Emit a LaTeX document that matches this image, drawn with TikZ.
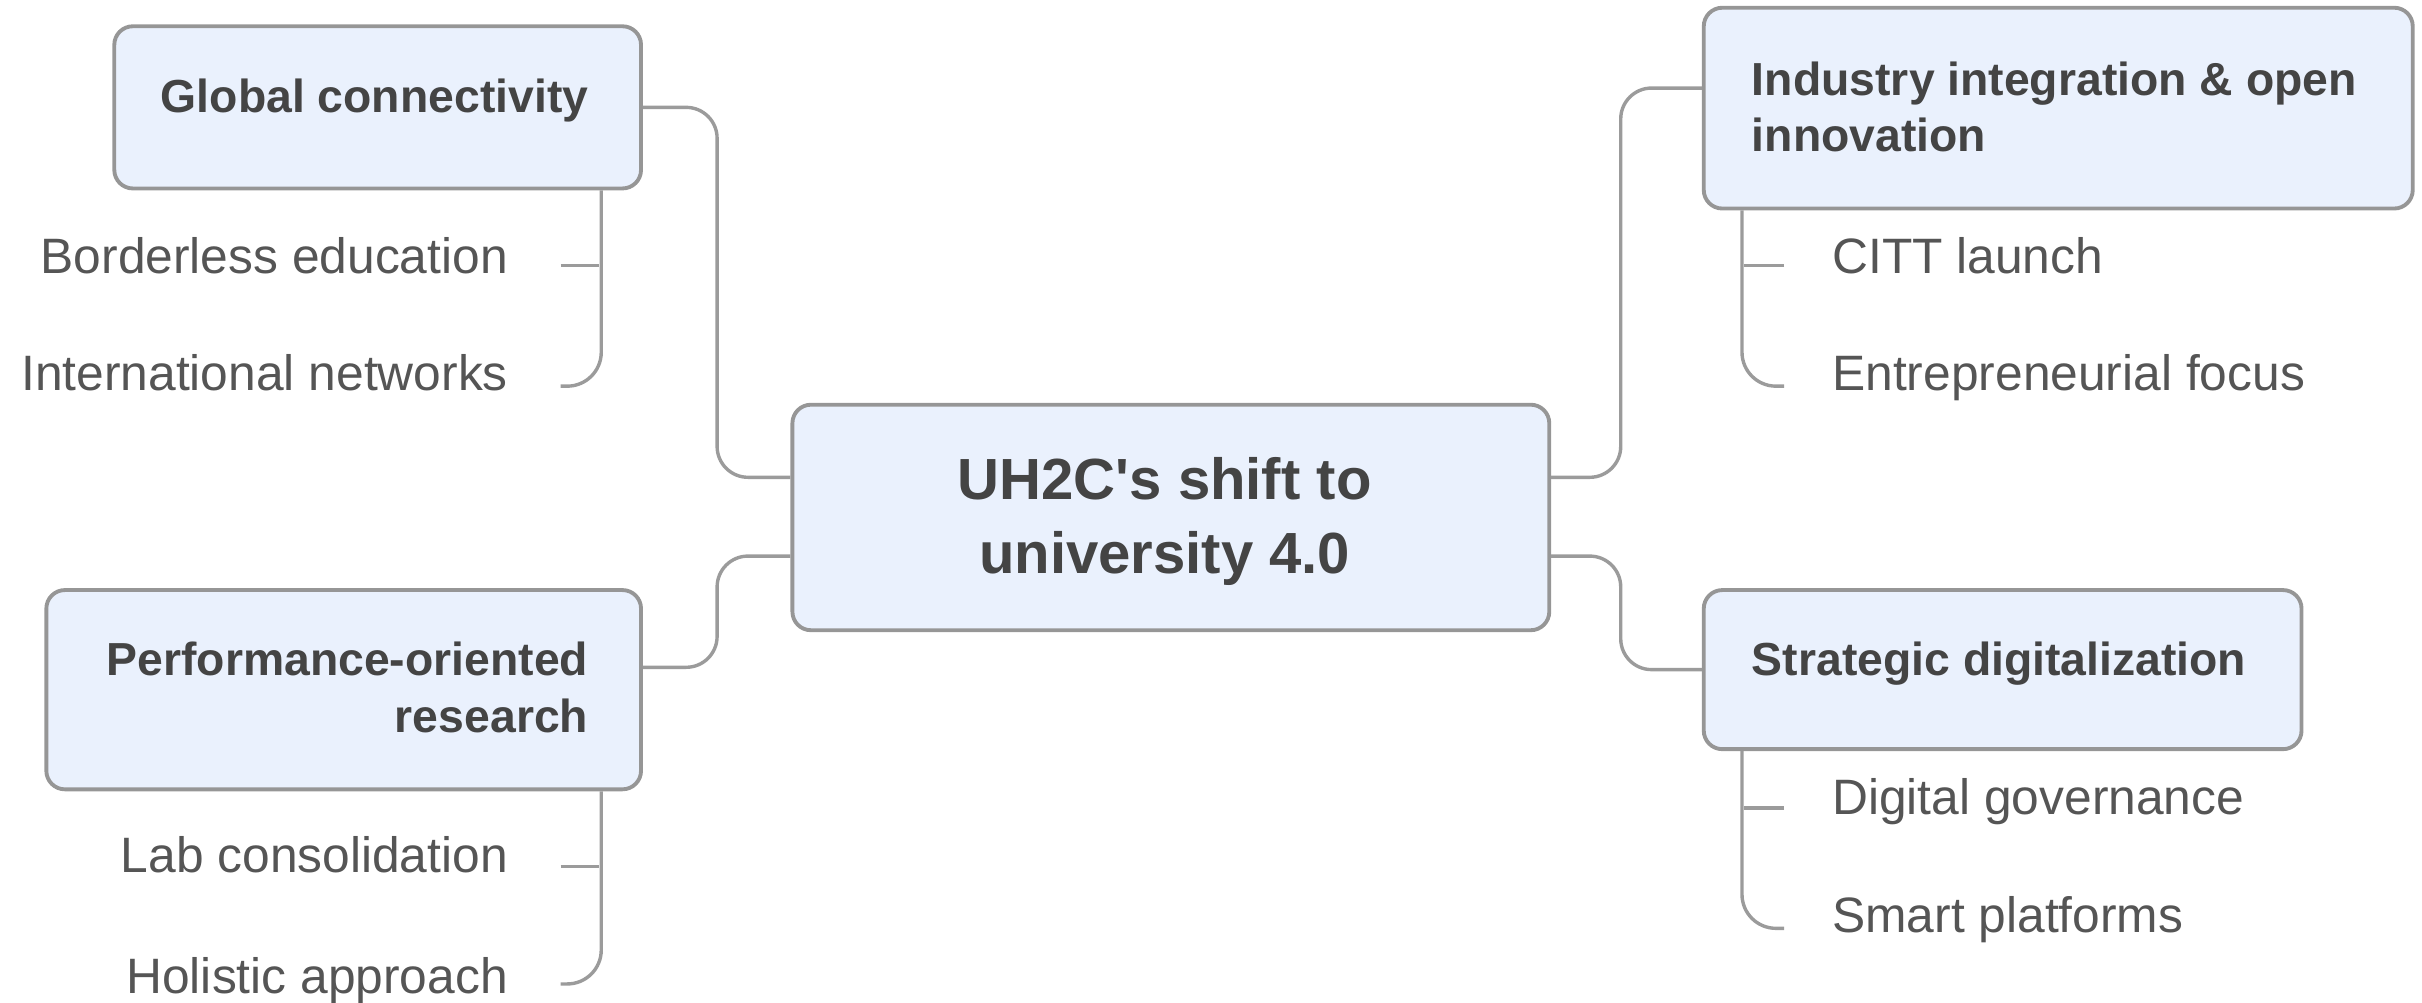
\documentclass[tikz,border=0pt]{standalone}
\usepackage{fontspec}
\setmainfont{Liberation Sans}
\definecolor{boxfill}{HTML}{EAF1FD}
\definecolor{boxline}{HTML}{969696}
\definecolor{linegray}{HTML}{9B9B9B}
\definecolor{boldtxt}{HTML}{444444}
\definecolor{regtxt}{HTML}{555555}
\begin{document}
\begin{tikzpicture}[x=1pt,y={(0pt,-1pt)},
  box/.style={draw=boxline, line width=2.5pt, fill=boxfill, rounded corners=12pt, inner sep=0pt},
  conn/.style={draw=linegray, line width=2.2pt, rounded corners=20pt},
  sub/.style={draw=linegray, line width=2.2pt, rounded corners=22pt},
  btxt/.style={font=\fontsize{30}{36}\selectfont\bfseries, text=boldtxt, inner sep=0pt},
  rtxt/.style={font=\fontsize{32.2}{38}\selectfont, text=regtxt, inner sep=0pt},
  ctxt/.style={font=\fontsize{37.6}{46}\selectfont\bfseries, text=boldtxt, inner sep=0pt}]
\useasboundingbox (0,0) rectangle (1568,648.7);

% boxes
\node[box, minimum width=490pt, minimum height=146pt] (hub) at (758,335) {};
\node[box, minimum width=341pt, minimum height=105pt] (glob) at (244.5,69.5) {};
\node[box, minimum width=385pt, minimum height=129pt] (perf) at (222.5,446.5) {};
\node[box, minimum width=459pt, minimum height=130pt] (indus) at (1332.5,70) {};
\node[box, minimum width=387pt, minimum height=103pt] (strat) at (1296.5,433.5) {};

% box texts
\node[ctxt, anchor=base] (hubA) at (754,323.5) {UH2C\textquotesingle s shift to};
\node[ctxt, anchor=base] (hubB) at (754,371) {university 4.0};
\node[btxt, anchor=base east] (globT) at (381,73) {Global connectivity};
\node[btxt, anchor=base east] (perfA) at (381,437) {Performance-oriented};
\node[btxt, anchor=base east] (perfB) at (381,474.5) {research};
\node[btxt, anchor=base west] (indA) at (1134,61.5) {Industry integration \& open};
\node[btxt, anchor=base west] (indB) at (1134,98) {innovation};
\node[btxt, anchor=base west] (stratT) at (1134,437) {Strategic digitalization};

% sub items
\node[rtxt, anchor=base east] (bord) at (329,177) {Borderless education};
\node[rtxt, anchor=base east] (intl) at (329,253) {International networks};
\node[rtxt, anchor=base east] (lab) at (329,565) {Lab consolidation};
\node[rtxt, anchor=base east] (holi) at (329,643) {Holistic approach};
\node[rtxt, anchor=base west] (citt) at (1186,177) {CITT launch};
\node[rtxt, anchor=base west] (entr) at (1186,253) {Entrepreneurial focus};
\node[rtxt, anchor=base west] (digi) at (1186,527) {Digital governance};
\node[rtxt, anchor=base west] (smart) at (1186,604) {Smart platforms};

% main connectors
\draw[conn] (glob.east) -- ++(48,0) |- ([yshift=26pt]hub.west);
\draw[conn] ([yshift=14.5pt]perf.east) -- ++(48,0) |- ([yshift=-25pt]hub.west);
\draw[conn] ([yshift=26pt]hub.east) -- ++(45,0) |- ([yshift=13pt]indus.west);
\draw[conn] ([yshift=-25pt]hub.east) -- ++(45,0) |- (strat.west);

% sub brackets
\draw[sub] ([xshift=-27pt]glob.south east) |- ([xshift=34pt,yshift=3pt]intl.base east);
\draw[sub] ([xshift=34pt,yshift=5pt]bord.base east) -- ++(25,0);
\draw[sub] ([xshift=-27pt]perf.south east) |- ([xshift=34pt,yshift=6pt]holi.base east);
\draw[sub] ([xshift=34pt,yshift=4pt]lab.base east) -- ++(25,0);
\draw[sub] ([xshift=26pt]indus.south west) |- ([xshift=-31pt,yshift=3pt]entr.base west);
\draw[sub] ([xshift=-31pt,yshift=5pt]citt.base west) -- ++(-26,0);
\draw[sub] ([xshift=26pt]strat.south west) |- ([xshift=-31pt,yshift=3pt]smart.base west);
\draw[sub] ([xshift=-31pt,yshift=4pt]digi.base west) -- ++(-26,0);
\end{tikzpicture}
\end{document}
